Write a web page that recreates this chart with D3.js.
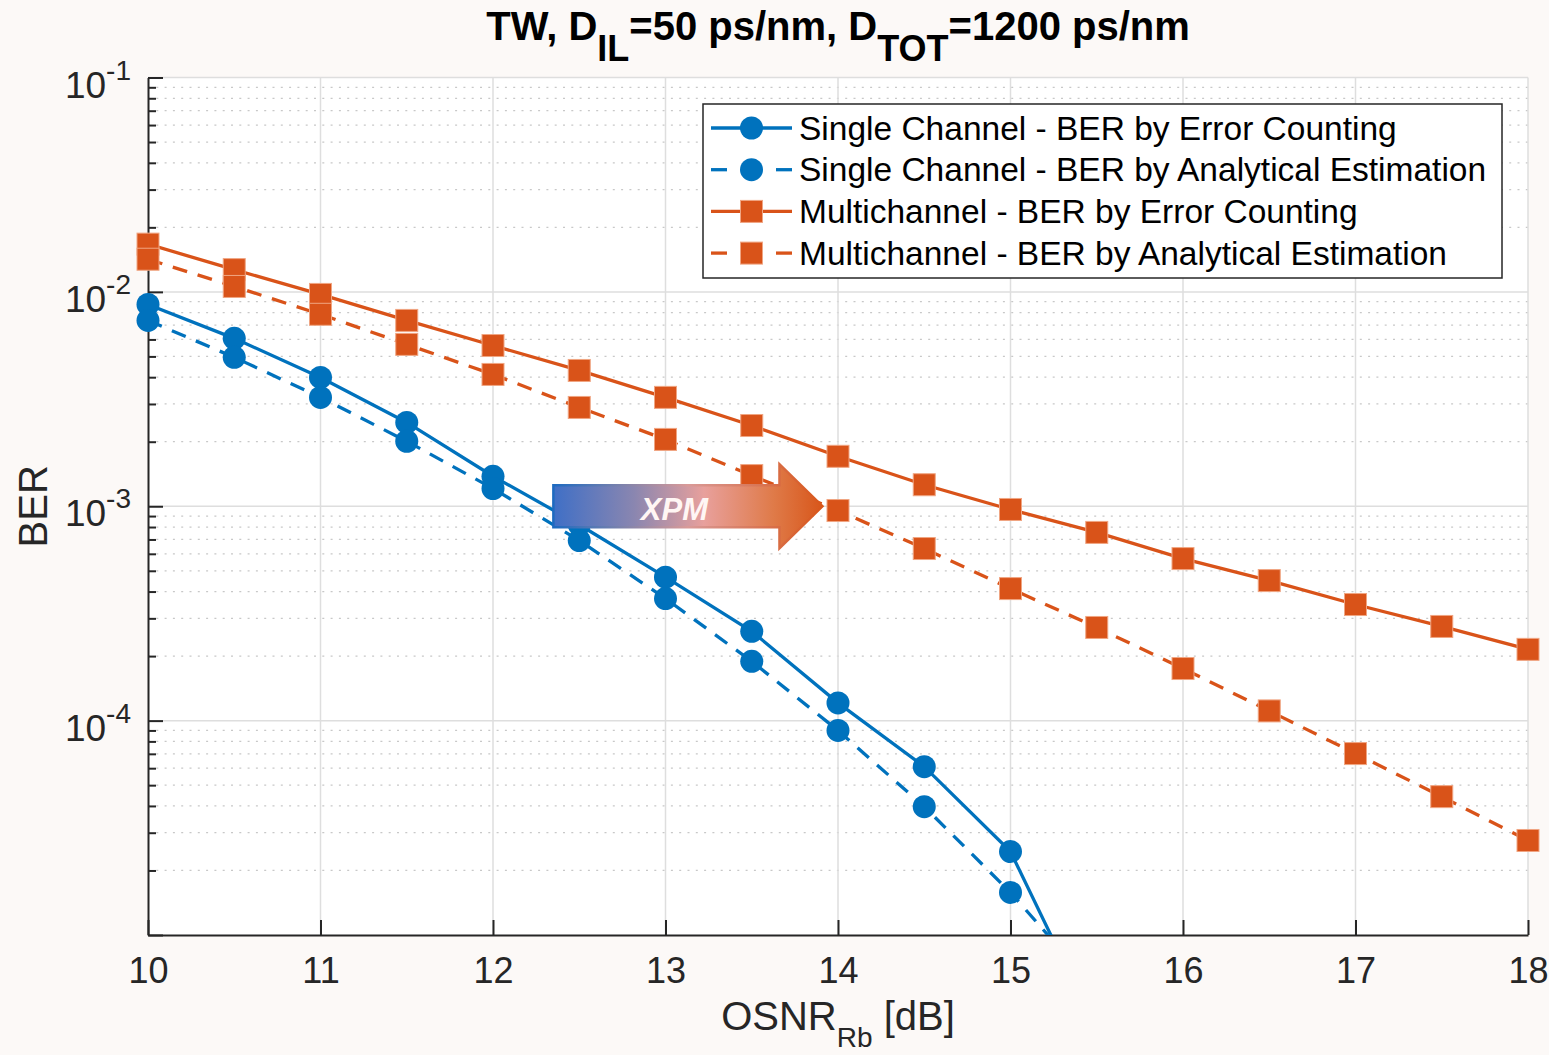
<!DOCTYPE html>
<html>
<meta charset="utf-8">
<head>
<script src="https://d3js.org/d3.v7.min.js"></script>
<style>
  body { margin: 0; background: #fcf9f7; }
  text { font-family: Arial, "Liberation Sans", sans-serif; fill: #262626; }
</style>
</head>
<body>
<div id="chart"></div>
<script>
// OSNR values (dB)
var osnr = [10, 10.5, 11, 11.5, 12, 12.5, 13, 13.5, 14, 14.5, 15, 15.5, 16, 16.5, 17, 17.5, 18];

// single channel curves fall below the axis after 15 dB
var singleCounting = [8.74e-3, 6.07e-3, 3.99e-3, 2.46e-3, 1.38e-3, 8.2e-4, 4.67e-4, 2.61e-4, 1.21e-4, 6.1e-5, 2.45e-5, 3.6e-6];
var singleAnalytic = [7.36e-3, 4.95e-3, 3.22e-3, 2.01e-3, 1.21e-3, 6.92e-4, 3.71e-4, 1.89e-4, 9.0e-5, 3.97e-5, 1.58e-5, 5.5e-6];
var multiCounting  = [1.67e-2, 1.27e-2, 9.73e-3, 7.36e-3, 5.62e-3, 4.30e-3, 3.22e-3, 2.38e-3, 1.71e-3, 1.26e-3, 9.66e-4, 7.55e-4, 5.70e-4, 4.50e-4, 3.48e-4, 2.75e-4, 2.15e-4];
var multiAnalytic  = [1.42e-2, 1.06e-2, 7.86e-3, 5.69e-3, 4.12e-3, 2.89e-3, 2.05e-3, 1.39e-3, 9.55e-4, 6.35e-4, 4.13e-4, 2.72e-4, 1.75e-4, 1.11e-4, 7.02e-5, 4.42e-5, 2.76e-5];

var seriesNames = ["Single Channel - BER by Error Counting",
                   "Single Channel - BER by Analytical Estimation",
                   "Multichannel - BER by Error Counting",
                   "Multichannel - BER by Analytical Estimation"];

var xTicks = [10, 11, 12, 13, 14, 15, 16, 17, 18];
var yMajor = [1e-5, 1e-4, 1e-3, 1e-2, 1e-1];
var yLabels = [-4, -3, -2, -1]; // exponents that get a label

// XPM arrow annotation, in data units
var arrowFrom = 12.35, arrowTo = 13.91, arrowLevel = 1e-3;

var W = 1549, H = 1055;
var margin = {top: 77.5, right: 21, bottom: 120, left: 148};

var blue = "#0072bd", orange = "#d95319";

var svg = d3.select("#chart").append("svg")
    .attr("width", W).attr("height", H);

svg.append("rect").attr("width", W).attr("height", H).attr("fill", "#fcf9f7");

var x = d3.scaleLinear().domain([10, 18]).range([margin.left, W - margin.right]);
var y = d3.scaleLog().domain([1e-5, 1e-1]).range([H - margin.bottom, margin.top]);

var x0 = x.range()[0], x1 = x.range()[1], y0 = y.range()[0], y1 = y.range()[1];

// plot background
svg.append("rect")
    .attr("x", x0).attr("y", y1)
    .attr("width", x1 - x0).attr("height", y0 - y1)
    .attr("fill", "#ffffff");

// minor grid (dotted)
var yMinor = [];
[-5, -4, -3, -2].forEach(function(e) {
  for (var k = 2; k <= 9; k++) yMinor.push(k * Math.pow(10, e));
});

var grid = svg.append("g");
grid.selectAll("line.minor").data(yMinor).enter().append("line")
    .attr("class", "minor")
    .attr("x1", x0).attr("x2", x1)
    .attr("y1", function(d) { return y(d); }).attr("y2", function(d) { return y(d); })
    .attr("stroke", "#c8c8c8").attr("stroke-width", 1.3)
    .attr("stroke-dasharray", "2,6.3");

grid.selectAll("line.majy").data(yMajor.slice(1)).enter().append("line")
    .attr("class", "majy")
    .attr("x1", x0).attr("x2", x1)
    .attr("y1", function(d) { return y(d); }).attr("y2", function(d) { return y(d); })
    .attr("stroke", "#dedede").attr("stroke-width", 1.5);

grid.selectAll("line.majx").data(xTicks.slice(1)).enter().append("line")
    .attr("class", "majx")
    .attr("x1", function(d) { return x(d); }).attr("x2", function(d) { return x(d); })
    .attr("y1", y1).attr("y2", y0)
    .attr("stroke", "#dedede").attr("stroke-width", 1.5);

// axes with inward ticks
var xAxis = svg.append("g")
    .attr("transform", "translate(0," + y0 + ")")
    .call(d3.axisBottom(x).tickValues(xTicks).tickSizeInner(-15).tickSizeOuter(0).tickPadding(26)
          .tickFormat(d3.format("d")));
xAxis.select(".domain").attr("stroke", "#262626").attr("stroke-width", 2);
xAxis.selectAll(".tick line").attr("stroke", "#262626").attr("stroke-width", 2);
xAxis.selectAll(".tick text")
    .attr("font-size", 36).attr("font-family", "Arial, 'Liberation Sans', sans-serif")
    .attr("fill", "#262626").attr("dy", null).attr("y", 48);

var yAxisMinor = svg.append("g")
    .attr("transform", "translate(" + x0 + ",0)")
    .call(d3.axisLeft(y).tickValues(yMinor).tickSizeInner(-8).tickSizeOuter(0).tickFormat(""));
yAxisMinor.select(".domain").remove();
yAxisMinor.selectAll(".tick line").attr("stroke", "#262626").attr("stroke-width", 2);

var yAxis = svg.append("g")
    .attr("transform", "translate(" + x0 + ",0)")
    .call(d3.axisLeft(y).tickValues(yMajor).tickSizeInner(-15).tickSizeOuter(0).tickFormat(""));
yAxis.select(".domain").attr("stroke", "#262626").attr("stroke-width", 2);
yAxis.selectAll(".tick line").attr("stroke", "#262626").attr("stroke-width", 2);

// y tick labels 10^n
var yl = svg.append("g").selectAll("text").data(yLabels).enter().append("text")
    .attr("x", x0 - 17)
    .attr("y", function(d) { return y(Math.pow(10, d)) + 20; })
    .attr("text-anchor", "end")
    .attr("font-size", 37);
yl.append("tspan").text("10");
yl.append("tspan").attr("dy", -18).attr("font-size", 28).text(function(d) { return d; });

// data
var clip = svg.append("clipPath").attr("id", "plotclip").append("rect")
    .attr("x", x0).attr("y", y1).attr("width", x1 - x0).attr("height", y0 - y1);

var series = [
  {name: seriesNames[0], values: singleCounting, color: blue,   dash: null,    shape: "circle"},
  {name: seriesNames[1], values: singleAnalytic, color: blue,   dash: "15,11", shape: "circle"},
  {name: seriesNames[2], values: multiCounting,  color: orange, dash: null,    shape: "square"},
  {name: seriesNames[3], values: multiAnalytic,  color: orange, dash: "15,11", shape: "square"}
];

var line = d3.line()
    .x(function(d) { return x(d[0]); })
    .y(function(d) { return y(d[1]); });

function drawMarker(g, shape, color, cx, cy) {
  if (shape === "circle") {
    g.append("circle").attr("cx", cx).attr("cy", cy).attr("r", 11.5)
        .attr("fill", color);
  } else {
    g.append("rect").attr("x", cx - 11).attr("y", cy - 11)
        .attr("width", 22).attr("height", 22)
        .attr("fill", color).attr("stroke", "#f0a582").attr("stroke-width", 1);
  }
}

series.forEach(function(s) {
  var pts = s.values.map(function(v, i) { return [osnr[i], v]; });
  var g = svg.append("g");
  g.append("path")
      .attr("d", line(pts))
      .attr("clip-path", "url(#plotclip)")
      .attr("fill", "none")
      .attr("stroke", s.color).attr("stroke-width", 3.3)
      .attr("stroke-dasharray", s.dash);
  pts.filter(function(p) { return p[1] >= 1e-5 && p[1] <= 1e-1; }).forEach(function(p) {
    drawMarker(g, s.shape, s.color, x(p[0]), y(p[1]));
  });
});

// XPM arrow
var defs = svg.append("defs");
var grad = defs.append("linearGradient").attr("id", "xpmfill")
    .attr("gradientUnits", "userSpaceOnUse")
    .attr("x1", x(arrowFrom)).attr("x2", x(arrowTo)).attr("y1", 0).attr("y2", 0);
grad.append("stop").attr("offset", 0).attr("stop-color", "#3f6fc6");
grad.append("stop").attr("offset", 0.3).attr("stop-color", "#8a86b0");
grad.append("stop").attr("offset", 0.56).attr("stop-color", "#e8a09c");
grad.append("stop").attr("offset", 0.82).attr("stop-color", "#df7a48");
grad.append("stop").attr("offset", 1).attr("stop-color", "#d8561a");
var gradS = defs.append("linearGradient").attr("id", "xpmstroke")
    .attr("gradientUnits", "userSpaceOnUse")
    .attr("x1", x(arrowFrom)).attr("x2", x(arrowTo)).attr("y1", 0).attr("y2", 0);
gradS.append("stop").attr("offset", 0).attr("stop-color", "#1d6ac0");
gradS.append("stop").attr("offset", 0.5).attr("stop-color", "#d99a98");
gradS.append("stop").attr("offset", 1).attr("stop-color", "#d8561a");

var ax0 = x(arrowFrom), ax1 = x(arrowTo), ay = y(arrowLevel);
var headLen = 43, bodyH = 21, headH = 42;
var arrowPts = [
  [ax0, ay - bodyH], [ax1 - headLen, ay - bodyH], [ax1 - headLen, ay - headH],
  [ax1, ay], [ax1 - headLen, ay + headH], [ax1 - headLen, ay + bodyH], [ax0, ay + bodyH]
];
svg.append("path")
    .attr("d", d3.line()(arrowPts) + "Z")
    .attr("fill", "url(#xpmfill)")
    .attr("stroke", "url(#xpmstroke)").attr("stroke-width", 2.5)
    .attr("stroke-linejoin", "miter");
svg.append("text")
    .attr("x", (ax0 + ax1 - headLen) / 2 + 8).attr("y", ay + 14)
    .attr("text-anchor", "middle")
    .attr("font-family", "'Open Sans', 'Noto Sans', sans-serif")
    .attr("font-weight", "bold").attr("font-style", "italic")
    .attr("font-size", 31)
    .style("fill", "#fff6f4")
    .text("XPM");

// legend
var leg = svg.append("g");
leg.append("rect")
    .attr("x", 703).attr("y", 104).attr("width", 799).attr("height", 174)
    .attr("fill", "#ffffff").attr("stroke", "#262626").attr("stroke-width", 1.5);
series.forEach(function(s, i) {
  var ry = 128 + i * 41.7;
  var g = leg.append("g");
  if (s.dash) {
    g.append("line").attr("x1", 711).attr("x2", 727).attr("y1", ry).attr("y2", ry)
        .attr("stroke", s.color).attr("stroke-width", 3.3);
    g.append("line").attr("x1", 776).attr("x2", 792).attr("y1", ry).attr("y2", ry)
        .attr("stroke", s.color).attr("stroke-width", 3.3);
  } else {
    g.append("line").attr("x1", 711).attr("x2", 792).attr("y1", ry).attr("y2", ry)
        .attr("stroke", s.color).attr("stroke-width", 3.3);
  }
  drawMarker(g, s.shape, s.color, 751.5, ry);
  g.append("text").attr("x", 799).attr("y", ry + 11.5)
      .attr("font-size", 33.5).style("fill", "#000")
      .text(s.name);
});

// title
var title = svg.append("text")
    .attr("x", (x0 + x1) / 2).attr("y", 40)
    .attr("text-anchor", "middle")
    .attr("font-size", 40).attr("font-weight", "bold").style("fill", "#000");
title.append("tspan").text("TW, D");
title.append("tspan").attr("dy", 21).attr("font-size", 36).text("IL");
title.append("tspan").attr("dy", -21).text("=50 ps/nm, D");
title.append("tspan").attr("dy", 21).attr("font-size", 36).text("TOT");
title.append("tspan").attr("dy", -21).text("=1200 ps/nm");

// axis labels
var xl = svg.append("text")
    .attr("x", (x0 + x1) / 2).attr("y", 1030)
    .attr("text-anchor", "middle")
    .attr("font-size", 40);
xl.append("tspan").text("OSNR");
xl.append("tspan").attr("dy", 17).attr("font-size", 28).text("Rb");
xl.append("tspan").attr("dy", -17).text(" [dB]");

svg.append("text")
    .attr("transform", "translate(47," + ((y0 + y1) / 2) + ") rotate(-90)")
    .attr("text-anchor", "middle")
    .attr("font-size", 40)
    .text("BER");
</script>
</body>
</html>
